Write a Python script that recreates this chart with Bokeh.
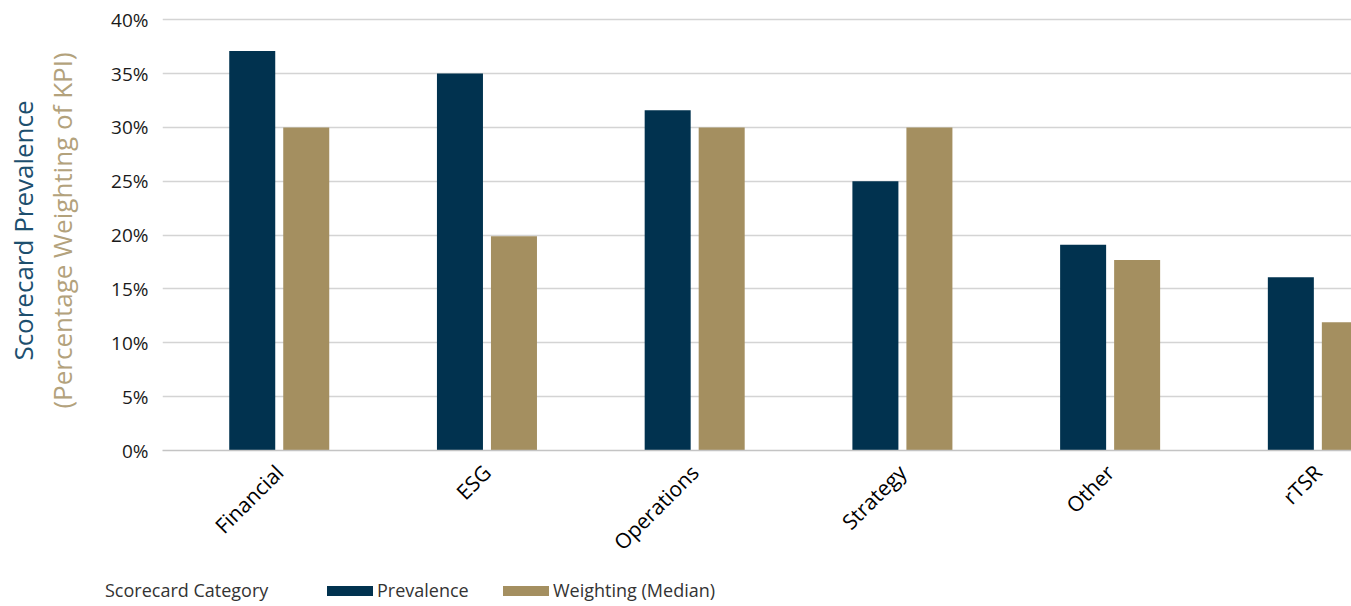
import numpy as np
from bokeh.plotting import figure
from bokeh.layouts import column
from bokeh.models import (ColumnDataSource, Range1d, FixedTicker, NumeralTickFormatter,
                          Title, Div)
from bokeh.transform import dodge
from bokeh.embed import file_html
from bokeh.resources import INLINE

categories = ["Financial", "ESG", "Operations", "Strategy", "Other", "rTSR"]
prevalence = [37.1, 35.0, 31.6, 25.0, 19.1, 16.1]
weighting = [30.0, 19.9, 30.0, 30.0, 17.7, 11.9]
y_ticks = [0, 5, 10, 15, 20, 25, 30, 35, 40]
series_names = ["Prevalence", "Weighting (Median)"]
x_title = "Scorecard Category"

NAVY = "#01324f"
TAN = "#a48f60"
FONT = "Open Sans"

idx = list(range(len(categories)))
src = ColumnDataSource(dict(x=idx, cat=categories, prev=prevalence, wt=weighting))

p = figure(width=1351, height=570, output_backend="svg", toolbar_location=None,
           x_range=Range1d(-0.562, 5.162), y_range=Range1d(0, 40.86),
           min_border_left=162, min_border_right=0, min_border_top=10, min_border_bottom=120)
p.outline_line_color = None
p.background_fill_color = "white"
p.border_fill_color = "white"

r1 = p.vbar(x=dodge("x", -0.13), top="prev", width=0.2215, source=src,
            fill_color=NAVY, line_color=None)
r2 = p.vbar(x=dodge("x", 0.13), top="wt", width=0.2215, source=src,
            fill_color=TAN, line_color=None)

# x axis
p.xaxis.ticker = FixedTicker(ticks=idx)
p.xaxis.major_label_overrides = {i: c for i, c in zip(idx, categories)}
p.xaxis.major_label_orientation = np.pi / 4
p.xaxis.major_label_text_font = FONT
p.xaxis.major_label_text_font_size = "21px"
p.xaxis.major_label_text_color = "#000000"
p.xaxis.major_tick_line_color = None
p.xaxis.minor_tick_line_color = None
p.xaxis.axis_line_color = "#c4c4c4"
p.xaxis.axis_line_width = 1.5
p.xaxis.major_label_standoff = 12
p.xgrid.grid_line_color = None

# y axis
p.yaxis.ticker = FixedTicker(ticks=y_ticks)
p.yaxis.formatter = NumeralTickFormatter(format="0")
p.yaxis.major_label_overrides = {t: f"{t}%" for t in y_ticks}
p.yaxis.major_label_text_font = FONT
p.yaxis.major_label_text_font_size = "19px"
p.yaxis.major_label_text_color = "#1a1a1a"
p.yaxis.major_tick_line_color = None
p.yaxis.minor_tick_line_color = None
p.yaxis.axis_line_color = None
p.yaxis.major_label_standoff = 8
p.yaxis.axis_label = "(Percentage Weighting of KPI)"
p.yaxis.axis_label_text_font = FONT
p.yaxis.axis_label_text_font_style = "normal"
p.yaxis.axis_label_text_font_size = "26px"
p.yaxis.axis_label_text_color = "#b3a27c"
p.yaxis.axis_label_standoff = 28
p.ygrid.grid_line_color = "#d4d4d4"
p.ygrid.grid_line_width = 1.5

p.add_layout(Title(text="Scorecard Prevalence", align="center", text_font=FONT,
                   text_font_size="26px", text_font_style="normal", standoff=2,
                   text_color="#1d4f6e"), "left")

# legend strip (x-axis title + series keys)
def span(left, top, inner, extra=""):
    return (f'<span style="position:absolute;left:{left}px;top:{top}px;'
            f'white-space:nowrap;{extra}">{inner}</span>')

txt = "line-height:18px;"
html = (
    f'<div style="position:relative;width:1351px;height:36px;overflow:hidden;'
    f'font-family:\'{FONT}\';font-size:18px;color:#333333;">'
    + span(105, 11, x_title, txt)
    + span(327, 16, "", f"width:46px;height:10px;background:{NAVY};")
    + span(377, 11, series_names[0], txt)
    + span(503, 16, "", f"width:46px;height:10px;background:{TAN};")
    + span(553, 11, series_names[1], txt)
    + '</div>'
)
key = Div(text=html, width=1351, height=36, margin=(0, 0, 0, 0))

layout = column(p, key, spacing=0)
open("out.html", "w").write(file_html(layout, INLINE))
